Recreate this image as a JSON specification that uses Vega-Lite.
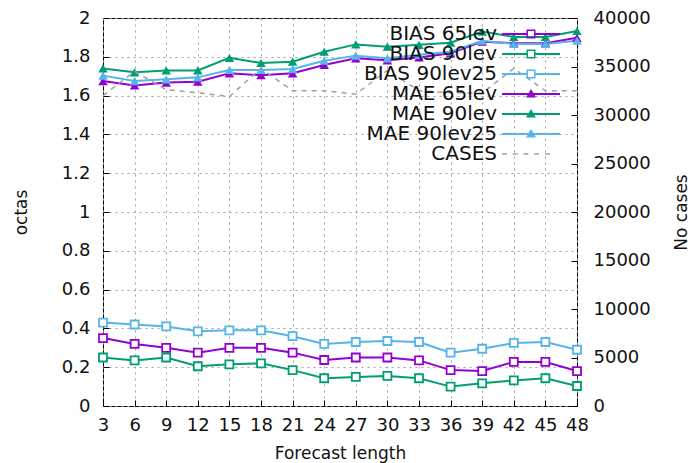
{
  "$schema": "https://vega.github.io/schema/vega-lite/v6.json",
  "autosize": "none",
  "width": 474,
  "height": 388,
  "padding": {"left": 103, "top": 18, "right": 114, "bottom": 57},
  "background": "white",
  "config": {
    "view": {"stroke": "black", "strokeWidth": 1},
    "font": "DejaVu Sans",
    "axis": {
      "labelFont": "DejaVu Sans", "titleFont": "DejaVu Sans",
      "labelFontSize": 18, "titleFontSize": 17, "titleFontWeight": "normal",
      "labelColor": "#111", "titleColor": "#111",
      "domain": false, "tickColor": "black", "tickSize": -6, "tickWidth": 1,
      "gridColor": "#a0a0a0", "gridDash": [2, 4], "gridWidth": 1, "gridOpacity": 1,
      "labelOverlap": false, "labelFlush": false
    }
  },
  "datasets": {
    "metrics": [
      {"h": 3, "series": "BIAS 65lev", "type": "BIAS", "v": 0.35},
      {"h": 6, "series": "BIAS 65lev", "type": "BIAS", "v": 0.32},
      {"h": 9, "series": "BIAS 65lev", "type": "BIAS", "v": 0.30},
      {"h": 12, "series": "BIAS 65lev", "type": "BIAS", "v": 0.275},
      {"h": 15, "series": "BIAS 65lev", "type": "BIAS", "v": 0.30},
      {"h": 18, "series": "BIAS 65lev", "type": "BIAS", "v": 0.30},
      {"h": 21, "series": "BIAS 65lev", "type": "BIAS", "v": 0.275},
      {"h": 24, "series": "BIAS 65lev", "type": "BIAS", "v": 0.237},
      {"h": 27, "series": "BIAS 65lev", "type": "BIAS", "v": 0.25},
      {"h": 30, "series": "BIAS 65lev", "type": "BIAS", "v": 0.25},
      {"h": 33, "series": "BIAS 65lev", "type": "BIAS", "v": 0.235},
      {"h": 36, "series": "BIAS 65lev", "type": "BIAS", "v": 0.185},
      {"h": 39, "series": "BIAS 65lev", "type": "BIAS", "v": 0.18},
      {"h": 42, "series": "BIAS 65lev", "type": "BIAS", "v": 0.227},
      {"h": 45, "series": "BIAS 65lev", "type": "BIAS", "v": 0.227},
      {"h": 48, "series": "BIAS 65lev", "type": "BIAS", "v": 0.18},
      {"h": 3, "series": "BIAS 90lev", "type": "BIAS", "v": 0.25},
      {"h": 6, "series": "BIAS 90lev", "type": "BIAS", "v": 0.235},
      {"h": 9, "series": "BIAS 90lev", "type": "BIAS", "v": 0.25},
      {"h": 12, "series": "BIAS 90lev", "type": "BIAS", "v": 0.205},
      {"h": 15, "series": "BIAS 90lev", "type": "BIAS", "v": 0.215},
      {"h": 18, "series": "BIAS 90lev", "type": "BIAS", "v": 0.22},
      {"h": 21, "series": "BIAS 90lev", "type": "BIAS", "v": 0.185},
      {"h": 24, "series": "BIAS 90lev", "type": "BIAS", "v": 0.143},
      {"h": 27, "series": "BIAS 90lev", "type": "BIAS", "v": 0.15},
      {"h": 30, "series": "BIAS 90lev", "type": "BIAS", "v": 0.155},
      {"h": 33, "series": "BIAS 90lev", "type": "BIAS", "v": 0.143},
      {"h": 36, "series": "BIAS 90lev", "type": "BIAS", "v": 0.10},
      {"h": 39, "series": "BIAS 90lev", "type": "BIAS", "v": 0.117},
      {"h": 42, "series": "BIAS 90lev", "type": "BIAS", "v": 0.132},
      {"h": 45, "series": "BIAS 90lev", "type": "BIAS", "v": 0.143},
      {"h": 48, "series": "BIAS 90lev", "type": "BIAS", "v": 0.103},
      {"h": 3, "series": "BIAS 90lev25", "type": "BIAS", "v": 0.43},
      {"h": 6, "series": "BIAS 90lev25", "type": "BIAS", "v": 0.42},
      {"h": 9, "series": "BIAS 90lev25", "type": "BIAS", "v": 0.41},
      {"h": 12, "series": "BIAS 90lev25", "type": "BIAS", "v": 0.385},
      {"h": 15, "series": "BIAS 90lev25", "type": "BIAS", "v": 0.39},
      {"h": 18, "series": "BIAS 90lev25", "type": "BIAS", "v": 0.39},
      {"h": 21, "series": "BIAS 90lev25", "type": "BIAS", "v": 0.36},
      {"h": 24, "series": "BIAS 90lev25", "type": "BIAS", "v": 0.32},
      {"h": 27, "series": "BIAS 90lev25", "type": "BIAS", "v": 0.33},
      {"h": 30, "series": "BIAS 90lev25", "type": "BIAS", "v": 0.335},
      {"h": 33, "series": "BIAS 90lev25", "type": "BIAS", "v": 0.33},
      {"h": 36, "series": "BIAS 90lev25", "type": "BIAS", "v": 0.275},
      {"h": 39, "series": "BIAS 90lev25", "type": "BIAS", "v": 0.295},
      {"h": 42, "series": "BIAS 90lev25", "type": "BIAS", "v": 0.325},
      {"h": 45, "series": "BIAS 90lev25", "type": "BIAS", "v": 0.33},
      {"h": 48, "series": "BIAS 90lev25", "type": "BIAS", "v": 0.29},
      {"h": 3, "series": "MAE 65lev", "type": "MAE", "v": 1.675},
      {"h": 6, "series": "MAE 65lev", "type": "MAE", "v": 1.652},
      {"h": 9, "series": "MAE 65lev", "type": "MAE", "v": 1.667},
      {"h": 12, "series": "MAE 65lev", "type": "MAE", "v": 1.672},
      {"h": 15, "series": "MAE 65lev", "type": "MAE", "v": 1.715},
      {"h": 18, "series": "MAE 65lev", "type": "MAE", "v": 1.705},
      {"h": 21, "series": "MAE 65lev", "type": "MAE", "v": 1.715},
      {"h": 24, "series": "MAE 65lev", "type": "MAE", "v": 1.758},
      {"h": 27, "series": "MAE 65lev", "type": "MAE", "v": 1.792},
      {"h": 30, "series": "MAE 65lev", "type": "MAE", "v": 1.782},
      {"h": 33, "series": "MAE 65lev", "type": "MAE", "v": 1.797},
      {"h": 36, "series": "MAE 65lev", "type": "MAE", "v": 1.818},
      {"h": 39, "series": "MAE 65lev", "type": "MAE", "v": 1.878},
      {"h": 42, "series": "MAE 65lev", "type": "MAE", "v": 1.87},
      {"h": 45, "series": "MAE 65lev", "type": "MAE", "v": 1.87},
      {"h": 48, "series": "MAE 65lev", "type": "MAE", "v": 1.898},
      {"h": 3, "series": "MAE 90lev", "type": "MAE", "v": 1.74},
      {"h": 6, "series": "MAE 90lev", "type": "MAE", "v": 1.72},
      {"h": 9, "series": "MAE 90lev", "type": "MAE", "v": 1.73},
      {"h": 12, "series": "MAE 90lev", "type": "MAE", "v": 1.73},
      {"h": 15, "series": "MAE 90lev", "type": "MAE", "v": 1.795},
      {"h": 18, "series": "MAE 90lev", "type": "MAE", "v": 1.768},
      {"h": 21, "series": "MAE 90lev", "type": "MAE", "v": 1.775},
      {"h": 24, "series": "MAE 90lev", "type": "MAE", "v": 1.826},
      {"h": 27, "series": "MAE 90lev", "type": "MAE", "v": 1.864},
      {"h": 30, "series": "MAE 90lev", "type": "MAE", "v": 1.852},
      {"h": 33, "series": "MAE 90lev", "type": "MAE", "v": 1.862},
      {"h": 36, "series": "MAE 90lev", "type": "MAE", "v": 1.873},
      {"h": 39, "series": "MAE 90lev", "type": "MAE", "v": 1.93},
      {"h": 42, "series": "MAE 90lev", "type": "MAE", "v": 1.902},
      {"h": 45, "series": "MAE 90lev", "type": "MAE", "v": 1.902},
      {"h": 48, "series": "MAE 90lev", "type": "MAE", "v": 1.933},
      {"h": 3, "series": "MAE 90lev25", "type": "MAE", "v": 1.703},
      {"h": 6, "series": "MAE 90lev25", "type": "MAE", "v": 1.675},
      {"h": 9, "series": "MAE 90lev25", "type": "MAE", "v": 1.684},
      {"h": 12, "series": "MAE 90lev25", "type": "MAE", "v": 1.694},
      {"h": 15, "series": "MAE 90lev25", "type": "MAE", "v": 1.732},
      {"h": 18, "series": "MAE 90lev25", "type": "MAE", "v": 1.732},
      {"h": 21, "series": "MAE 90lev25", "type": "MAE", "v": 1.737},
      {"h": 24, "series": "MAE 90lev25", "type": "MAE", "v": 1.78},
      {"h": 27, "series": "MAE 90lev25", "type": "MAE", "v": 1.806},
      {"h": 30, "series": "MAE 90lev25", "type": "MAE", "v": 1.792},
      {"h": 33, "series": "MAE 90lev25", "type": "MAE", "v": 1.81},
      {"h": 36, "series": "MAE 90lev25", "type": "MAE", "v": 1.826},
      {"h": 39, "series": "MAE 90lev25", "type": "MAE", "v": 1.883},
      {"h": 42, "series": "MAE 90lev25", "type": "MAE", "v": 1.866},
      {"h": 45, "series": "MAE 90lev25", "type": "MAE", "v": 1.866},
      {"h": 48, "series": "MAE 90lev25", "type": "MAE", "v": 1.883}
    ],
    "cases": [
      {"h": 3, "cases": 32000}, {"h": 6, "cases": 34500}, {"h": 9, "cases": 32600},
      {"h": 12, "cases": 32300}, {"h": 15, "cases": 31900}, {"h": 18, "cases": 34800},
      {"h": 21, "cases": 32500}, {"h": 24, "cases": 32500}, {"h": 27, "cases": 32150},
      {"h": 30, "cases": 34600}, {"h": 33, "cases": 32500}, {"h": 36, "cases": 32300},
      {"h": 39, "cases": 32250}, {"h": 42, "cases": 34800}, {"h": 45, "cases": 32500},
      {"h": 48, "cases": 32500}
    ],
    "legend": [
      {"series": "BIAS 65lev"}, {"series": "BIAS 90lev"}, {"series": "BIAS 90lev25"},
      {"series": "MAE 65lev"}, {"series": "MAE 90lev"}, {"series": "MAE 90lev25"},
      {"series": "CASES"}
    ]
  },
  "encoding": {
    "x": {"field": "h", "type": "quantitative", "scale": {"domain": [3, 48], "nice": false},
      "axis": {"values": [3,6,9,12,15,18,21,24,27,30,33,36,39,42,45,48], "grid": true, "title": "Forecast length", "labelPadding": 16, "titlePadding": 11}}
  },
  "layer": [
    {
      "data": {"name": "metrics"},
      "encoding": {
        "y": {"field": "v", "type": "quantitative", "scale": {"domain": [0, 2], "nice": false},
          "axis": {"values": [0,0.2,0.4,0.6,0.8,1,1.2,1.4,1.6,1.8,2], "format": "~g", "grid": true, "title": "octas", "labelPadding": 19, "titlePadding": 31}}
      },
      "layer": [
        {
          "mark": {"type": "line", "strokeWidth": 2},
          "encoding": {
            "color": {"field": "series", "type": "nominal",
              "scale": {"domain": ["BIAS 65lev","BIAS 90lev","BIAS 90lev25","MAE 65lev","MAE 90lev","MAE 90lev25"],
                "range": ["#9400d3","#009e73","#56b4e9","#9400d3","#009e73","#56b4e9"]},
              "legend": null}
          }
        },
        {
          "transform": [{"filter": {"field": "type", "equal": "BIAS"}}],
          "mark": {"type": "point", "shape": "square", "size": 64, "filled": true, "fill": "white", "strokeWidth": 1.8, "opacity": 1},
          "encoding": {
            "stroke": {"field": "series", "type": "nominal",
              "scale": {"domain": ["BIAS 65lev","BIAS 90lev","BIAS 90lev25"], "range": ["#9400d3","#009e73","#56b4e9"]},
              "legend": null}
          }
        },
        {
          "transform": [{"filter": {"field": "type", "equal": "MAE"}}],
          "mark": {"type": "point", "shape": "triangle-up", "size": 90, "filled": true, "opacity": 1},
          "encoding": {
            "color": {"field": "series", "type": "nominal", "legend": null}
          }
        }
      ]
    },
    {
      "data": {"name": "cases"},
      "mark": {"type": "line", "strokeWidth": 1.5, "strokeDash": [5, 5], "color": "#a0a0a0"},
      "encoding": {
        "y": {"field": "cases", "type": "quantitative", "scale": {"domain": [0, 40000], "nice": false},
          "axis": {"orient": "right", "values": [0,5000,10000,15000,20000,25000,30000,35000,40000], "format": "d", "grid": false, "title": "No cases", "titleAngle": 270, "labelPadding": 22, "titlePadding": 40}}
      }
    },
    {
      "data": {"name": "legend"},
      "mark": {"type": "point", "filled": true, "opacity": 0, "size": 256, "strokeWidth": 0},
      "encoding": {
        "fill": {"field": "series", "type": "nominal",
          "scale": {"domain": ["BIAS 65lev","BIAS 90lev","BIAS 90lev25","MAE 65lev","MAE 90lev","MAE 90lev25","CASES"],
            "range": ["#9400d3","#009e73","#56b4e9","#9400d3","#009e73","#56b4e9","#a0a0a0"]},
          "legend": {"title": null, "orient": "none", "legendX": 418, "legendY": 6, "labelAlign": "right", "labelOffset": -44,
            "symbolSize": 256, "symbolStrokeWidth": 0, "symbolOpacity": 1, "labelFont": "DejaVu Sans", "labelFontSize": 20,
            "labelColor": "#111", "rowPadding": -3.3, "labelLimit": 0}},
        "shape": {"field": "series", "type": "nominal",
          "scale": {"domain": ["BIAS 65lev","BIAS 90lev","BIAS 90lev25","MAE 65lev","MAE 90lev","MAE 90lev25","CASES"],
            "range": [
              "M-3.625,-0.125H-0.5625V0.125H-3.625Z M0.5625,-0.125H3.625V0.125H0.5625Z M-0.5625,-0.5625H0.5625V0.5625H-0.5625Z M-0.375,-0.375V0.375H0.375V-0.375Z",
              "M-3.625,-0.125H-0.5625V0.125H-3.625Z M0.5625,-0.125H3.625V0.125H0.5625Z M-0.5625,-0.5625H0.5625V0.5625H-0.5625Z M-0.375,-0.375V0.375H0.375V-0.375Z",
              "M-3.625,-0.125H-0.5625V0.125H-3.625Z M0.5625,-0.125H3.625V0.125H0.5625Z M-0.5625,-0.5625H0.5625V0.5625H-0.5625Z M-0.375,-0.375V0.375H0.375V-0.375Z",
              "M-3.625,-0.125H3.625V0.125H-3.625Z M0,-0.625L0.625,0.44H-0.625Z",
              "M-3.625,-0.125H3.625V0.125H-3.625Z M0,-0.625L0.625,0.44H-0.625Z",
              "M-3.625,-0.125H3.625V0.125H-3.625Z M0,-0.625L0.625,0.44H-0.625Z",
              "M-3.625,-0.094H-3V0.094H-3.625Z M-2.28,-0.094H-1.67V0.094H-2.28Z M-0.94,-0.094H-0.33V0.094H-0.94Z M0.4,-0.094H1V0.094H0.4Z M1.74,-0.094H2.36V0.094H1.74Z"
            ]},
          "legend": {"title": null, "orient": "none", "legendX": 418, "legendY": 6, "labelAlign": "right", "labelOffset": -44,
            "symbolSize": 256, "symbolStrokeWidth": 0, "symbolOpacity": 1, "labelFont": "DejaVu Sans", "labelFontSize": 20,
            "labelColor": "#111", "rowPadding": -3.3, "labelLimit": 0}}
      }
    }
  ],
  "resolve": {"scale": {"y": "independent"}}
}
